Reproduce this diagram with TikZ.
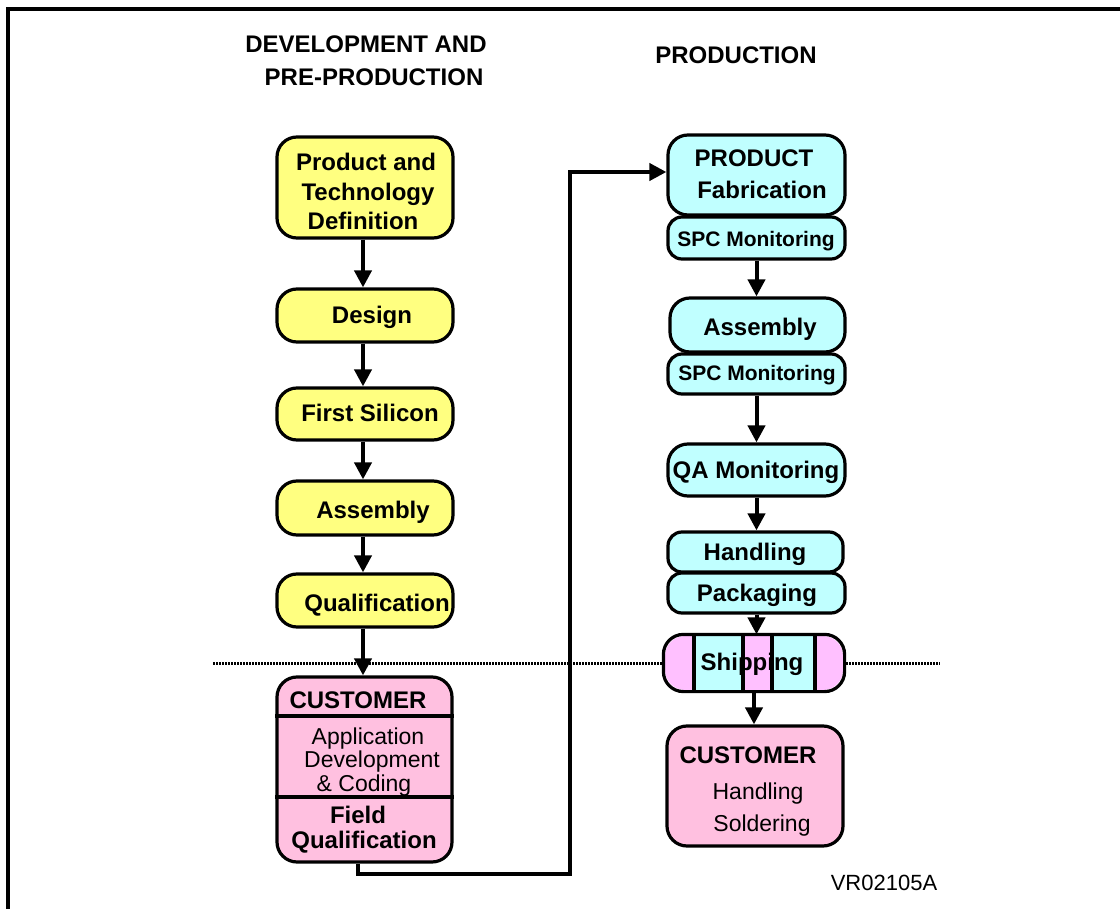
\documentclass[tikz,border=0pt]{standalone}
\usepackage{fontspec}
\setmainfont{Liberation Sans}
\usetikzlibrary{arrows.meta}
\definecolor{yfill}{RGB}{255,255,128}
\definecolor{cfill}{RGB}{192,255,255}
\definecolor{pfill}{RGB}{255,192,224}
\definecolor{sfill}{RGB}{255,192,255}
\tikzset{
  box/.style={draw, line width=1.6pt, rounded corners=10pt, inner sep=0pt},
  sbox/.style={draw, line width=1.6pt, rounded corners=7pt, inner sep=0pt},
  bl/.style={font=\bfseries\fontsize{12}{14}\selectfont, anchor=base, inner sep=0pt},
  sl/.style={font=\bfseries\fontsize{10.5}{12}\selectfont, anchor=base, inner sep=0pt},
  nl/.style={font=\fontsize{11.5}{13}\selectfont, anchor=base, inner sep=0pt},
  conn/.style={line width=2pt, -{Triangle[width=8.5pt,length=8.5pt]}},
}
\begin{document}
\begin{tikzpicture}[x=0.5pt,y=-0.5pt]
\useasboundingbox (0,0) rectangle (1120,909);
% frame
\draw[line width=2pt] (8,909) -- (8,9) -- (1120,9);
% headings
\node[bl] (h1) at (366,53) {DEVELOPMENT AND};
\node[bl] (h2) at (374,86) {PRE-PRODUCTION};
\node[bl] (h3) at (736,64) {PRODUCTION};
% dotted separator
\draw[line width=1.5pt, dash pattern=on 1pt off 0.5pt, black] (213,663) -- (940,663);
% left column
\node[box, fill=yfill, minimum width=88pt, minimum height=50.5pt] (pdef) at (365,187.5) {};
\node[box, fill=yfill, minimum width=88pt, minimum height=26.5pt] (design) at (365,315.5) {};
\node[box, fill=yfill, minimum width=88pt, minimum height=26pt] (fsil) at (365,414) {};
\node[box, fill=yfill, minimum width=88pt, minimum height=27pt] (asm) at (365,508) {};
\node[box, fill=yfill, minimum width=88pt, minimum height=26.5pt] (qual) at (365,600.5) {};
\node[box, fill=pfill, minimum width=87.5pt, minimum height=92.5pt] (cust1) at (364.5,769.5) {};
\draw[line width=1.6pt] (cust1.west |- 0,716) -- (cust1.east |- 0,716);
\draw[line width=1.6pt] (cust1.west |- 0,797) -- (cust1.east |- 0,797);
\node[bl] (t1) at (366,171) {Product and};
\node[bl] (t2) at (368,201) {Technology};
\node[bl] (t3) at (363,230) {Definition};
\node[bl] (t4) at (372,324) {Design};
\node[bl] (t5) at (370,422) {First Silicon};
\node[bl] (t6) at (373,518) {Assembly};
\node[bl] (t7) at (377,611) {Qualification};
\node[bl] (t8) at (358,708) {CUSTOMER};
\node[nl] (t9) at (368,744) {Application};
\node[nl] (t10) at (372,767) {Development};
\node[nl] (t11) at (364,791) {\& Coding};
\node[bl] (t12) at (358,823) {Field};
\node[bl] (t13) at (364,848) {Qualification};
% right column
\node[box, fill=cfill, minimum width=88.5pt, minimum height=40pt] (fab) at (756.5,175) {};
\node[sbox, fill=cfill, minimum width=88.5pt, minimum height=21pt] (spc1) at (756.5,238) {};
\node[box, fill=cfill, minimum width=87.5pt, minimum height=27pt] (asm2) at (757.5,325) {};
\node[sbox, fill=cfill, minimum width=88.5pt, minimum height=20pt] (spc2) at (756.5,374) {};
\node[box, fill=cfill, minimum width=88.5pt, minimum height=26pt] (qa) at (756.5,470) {};
\node[sbox, fill=cfill, minimum width=87.5pt, minimum height=20pt] (hand) at (755.5,552) {};
\node[sbox, fill=cfill, minimum width=88.5pt, minimum height=20pt] (pack) at (756.5,593) {};
\node[box, fill=sfill, draw=none, minimum width=89pt, minimum height=27pt] (ship) at (754,663) {};
\fill[cfill] (694,636) rectangle (743,690);
\fill[cfill] (772,636) rectangle (815,690);
\foreach \xx in {694,743,772,815} \draw[line width=1.6pt] (\xx,636) -- (\xx,690);
\draw[line width=1.6pt, rounded corners=10pt] (ship.south west) rectangle (ship.north east);
\node[box, fill=pfill, minimum width=88pt, minimum height=60pt] (cust2) at (755,786) {};
\node[bl] (r1) at (754,167) {PRODUCT};
\node[bl] (r2) at (762,199) {Fabrication};
\node[sl] (r3) at (756,246.5) {SPC Monitoring};
\node[bl] (r4) at (760,336) {Assembly};
\node[sl] (r5) at (757,380.5) {SPC Monitoring};
\node[bl] (r6) at (756,479) {QA Monitoring};
\node[bl] (r7) at (755,560) {Handling};
\node[bl] (r8) at (757,601) {Packaging};
\node[bl] (r9) at (752,670) {Shipping};
\node[bl] (r10) at (748,763) {CUSTOMER};
\node[nl] (r11) at (758,799) {Handling};
\node[nl] (r12) at (762,831) {Soldering};
\node[nl, font=\fontsize{11}{13}\selectfont] (code) at (884,890) {VR02105A};
% connectors left
\draw[conn] ([xshift=-1pt]pdef.south) -- ([xshift=-1pt]design.north);
\draw[conn] ([xshift=-1pt]design.south) -- ([xshift=-1pt]fsil.north);
\draw[conn] ([xshift=-1pt]fsil.south) -- ([xshift=-1pt]asm.north);
\draw[conn] ([xshift=-1pt]asm.south) -- ([xshift=-1pt]qual.north);
\draw[conn] ([xshift=-1pt]qual.south) -- ([xshift=-1pt]qual.south |- cust1.north);
% connectors right
\draw[conn] (spc1.south) -- (spc1.south |- asm2.north);
\draw[conn] (spc2.south) -- (spc2.south |- qa.north);
\draw[conn] (qa.south) -- (qa.south |- hand.north);
\draw[conn] (pack.south) -- (pack.south |- ship.north);
\draw[conn] (ship.south) -- (ship.south |- cust2.north);
% loop connector
\coordinate (turn) at (570,874);
\draw[conn, line join=miter] ([xshift=-3.25pt]cust1.south) |- (turn) |- ([yshift=1.5pt]fab.west);
\end{tikzpicture}
\end{document}
